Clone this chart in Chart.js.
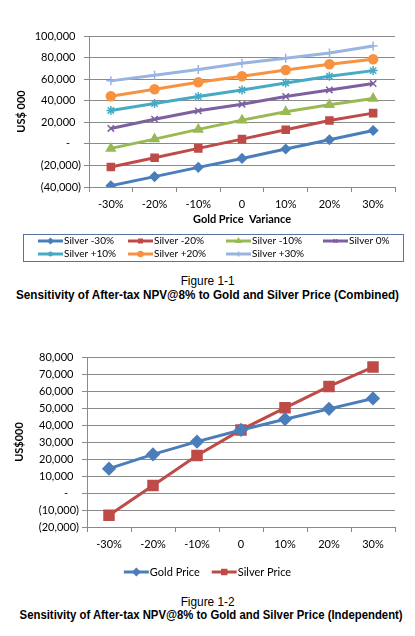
<!DOCTYPE html>
<html>
<head>
<meta charset="utf-8">
<script src="https://cdn.jsdelivr.net/npm/chart.js@4.4.1/dist/chart.umd.min.js"></script>
<style>
    body { margin: 0; background: #fff; width: 415px; height: 636px; position: relative; overflow: hidden; }
    canvas { position: absolute; left: 0; }
    .cap { position: absolute; left: 0; width: 415px; text-align: center; color: #000; white-space: nowrap;
           font-family: "Liberation Sans", Arial, sans-serif; line-height: 14px; }
    .cap span { display: inline-block; transform-origin: center; }
</style>
</head>
<body>
<canvas id="combined" width="415" height="270" style="top:0"></canvas>
<div class="cap" style="top:274px;font-size:13px"><span data-w="54">Figure 1-1</span></div>
<div class="cap" style="top:288px;font-size:12.5px;font-weight:bold"><span data-w="383">Sensitivity of After-tax NPV@8% to Gold and Silver Price (Combined)</span></div>
<canvas id="independent" width="415" height="270" style="top:320px"></canvas>
<div class="cap" style="top:595px;font-size:13px"><span data-w="54">Figure 1-2</span></div>
<div class="cap" style="top:608px;font-size:12.5px;font-weight:bold"><span data-w="383">Sensitivity of After-tax NPV@8% to Gold and Silver Price (Independent)</span></div>

<script>
// data (US$ 000)
const categories = ["-30%", "-20%", "-10%", "0", "10%", "20%", "30%"];

const silverLabels = ["Silver -30%", "Silver -20%", "Silver -10%", "Silver 0%", "Silver +10%", "Silver +20%", "Silver +30%"];
const silverMinus30 = [-38800, -30400, -21800, -13500, -4800, 3800, 12400];
const silverMinus20 = [-21500, -12900, -4200, 4400, 13000, 21700, 28500];
const silverMinus10 = [-4200, 4400, 13400, 22000, 29700, 36200, 42000];
const silverZero = [14300, 22900, 30600, 36800, 43900, 50000, 55900];
const silverPlus10 = [31000, 37400, 43900, 50000, 56500, 62700, 67900];
const silverPlus20 = [44200, 50700, 57100, 62700, 68500, 73800, 78400];
const silverPlus30 = [58400, 63600, 68900, 74700, 79300, 84300, 90700];

const goldPrice = [14300, 22700, 30200, 37100, 43400, 49500, 55600];
const silverPrice = [-13100, 4400, 22100, 37100, 50100, 62700, 74100];

const axis1 = { min: -40000, max: 100000, step: 20000 };
const axis2 = { min: -20000, max: 80000, step: 10000 };

// styles
const colors = ["#4A7EBB", "#BE4B48", "#98B954", "#7D60A0", "#46AAC5", "#F69240", "#98B4E1"];
const markers = ["rectRot", "rect", "triangle", "crossRot", "star", "circle", "cross"];
const markerSize = [4.5, 5, 5, 4.5, 4.5, 4.5, 4.5];
const gridColor = "#8a8a8a";
const tickFont = { family: "Lato, 'Open Sans', sans-serif", size: 11 };
const titleFont = { family: "Lato, 'Open Sans', sans-serif", size: 11, weight: "bold" };

function fmtVal(v) {
    if (v === 0) return "-\u2002\u2002";
    const s = Math.abs(v).toLocaleString("en-US");
    return v < 0 ? "(" + s + ")" : s + "\u2002";
}

// legend with line + marker like Excel
const lineLegend = {
    id: "lineLegend",
    afterDraw(chart, args, opts) {
        const ctx = chart.ctx;
        ctx.save();
        ctx.font = opts.font;
        ctx.textBaseline = "middle";
        if (opts.box) {
            ctx.strokeStyle = "#5b73a0";
            ctx.lineWidth = 1;
            ctx.strokeRect(opts.box[0] + 0.5, opts.box[1] + 0.5, opts.box[2], opts.box[3]);
        }
        const ds = chart.data.datasets;
        let slots = opts.slots;
        if (!slots) {
            // center all items on one row
            const widths = ds.map(d => opts.lineLen + 1 + ctx.measureText(d.label).width);
            const total = widths.reduce((a, b) => a + b, 0) + opts.gap * (ds.length - 1);
            let x = (chart.width - total) / 2;
            slots = widths.map(w => { const s = [x, opts.y]; x += w + opts.gap; return s; });
        }
        ds.forEach((d, i) => {
            const [x, y] = slots[i];
            ctx.strokeStyle = d.borderColor;
            ctx.fillStyle = d.borderColor;
            ctx.lineWidth = opts.lineWidth;
            ctx.beginPath();
            ctx.moveTo(x, y);
            ctx.lineTo(x + opts.lineLen, y);
            ctx.stroke();
            ctx.lineWidth = 1.5;
            Chart.helpers.drawPoint(ctx, { pointStyle: d.pointStyle, radius: opts.markerRadius, borderWidth: 1.5, rotation: 0 }, x + opts.lineLen / 2, y);
            ctx.fillStyle = "#000";
            ctx.fillText(d.label, x + opts.lineLen + 1, y);
        });
        ctx.restore();
    }
};

function makeOptions(ax, yTitle, xTitle, yWidth, xHeight, padding, legendOpts) {
    return {
        responsive: false,
        animation: false,
        layout: { padding: padding },
        plugins: {
            legend: { display: false },
            tooltip: { enabled: false },
            lineLegend: legendOpts
        },
        scales: {
            x: {
                offset: true,
                grid: { offset: true, drawOnChartArea: false, drawTicks: true, tickLength: 5, color: gridColor },
                border: { color: gridColor },
                ticks: { color: "#000", font: tickFont, padding: 6, maxRotation: 0 },
                title: { display: !!xTitle, text: xTitle, color: "#000", font: titleFont, padding: { top: 0, bottom: 1 } },
                afterFit: s => { s.height = xHeight; }
            },
            y: {
                min: ax.min,
                max: ax.max,
                grid: { color: gridColor, tickLength: 5 },
                border: { color: gridColor },
                ticks: { stepSize: ax.step, color: "#000", font: tickFont, padding: 3, callback: v => fmtVal(v) },
                title: { display: true, text: yTitle, color: "#000", font: titleFont, padding: { top: 6, bottom: 0 } },
                afterFit: s => { s.width = yWidth; }
            }
        }
    };
}

const silverSeries = [silverMinus30, silverMinus20, silverMinus10, silverZero, silverPlus10, silverPlus20, silverPlus30];

new Chart(document.getElementById("combined"), {
    type: "line",
    data: {
        labels: categories,
        datasets: silverSeries.map((vals, i) => ({
            label: silverLabels[i],
            data: vals,
            borderColor: colors[i],
            backgroundColor: colors[i],
            borderWidth: 3,
            pointStyle: markers[i],
            pointRadius: markerSize[i],
            pointBorderWidth: 1.5,
            tension: 0
        }))
    },
    options: makeOptions(axis1, "US$ 000", "Gold Price  Variance", 80, 40, { left: 9, right: 20, top: 36, bottom: 43 }, {
        font: "10px Lato, sans-serif",
        box: [23, 234, 380, 27],
        slots: [[38, 241], [128, 241], [226, 241], [323, 241], [38, 254], [128, 254], [226, 254]],
        lineLen: 25,
        lineWidth: 3,
        markerRadius: 2.5
    }),
    plugins: [lineLegend]
});

new Chart(document.getElementById("independent"), {
    type: "line",
    data: {
        labels: categories,
        datasets: [
            { label: "Gold Price", data: goldPrice, borderColor: colors[0], backgroundColor: colors[0],
              borderWidth: 3, pointStyle: "rectRot", pointRadius: 5, tension: 0 },
            { label: "Silver Price", data: silverPrice, borderColor: colors[1], backgroundColor: colors[1],
              borderWidth: 3, pointStyle: "rect", pointRadius: 6, tension: 0 }
        ]
    },
    options: makeOptions(axis2, "US$000", "", 80, 30, { left: 7, right: 20, top: 37, bottom: 33 }, {
        font: "11px Lato, sans-serif",
        y: 252,
        gap: 12,
        lineLen: 25,
        lineWidth: 3,
        markerRadius: 3.5
    }),
    plugins: [lineLegend]
});

// squeeze captions to the reference width
document.querySelectorAll(".cap span").forEach(sp => {
    const w = sp.getBoundingClientRect().width;
    sp.style.transform = "scaleX(" + (Number(sp.dataset.w) / w) + ")";
});
</script>
</body>
</html>
